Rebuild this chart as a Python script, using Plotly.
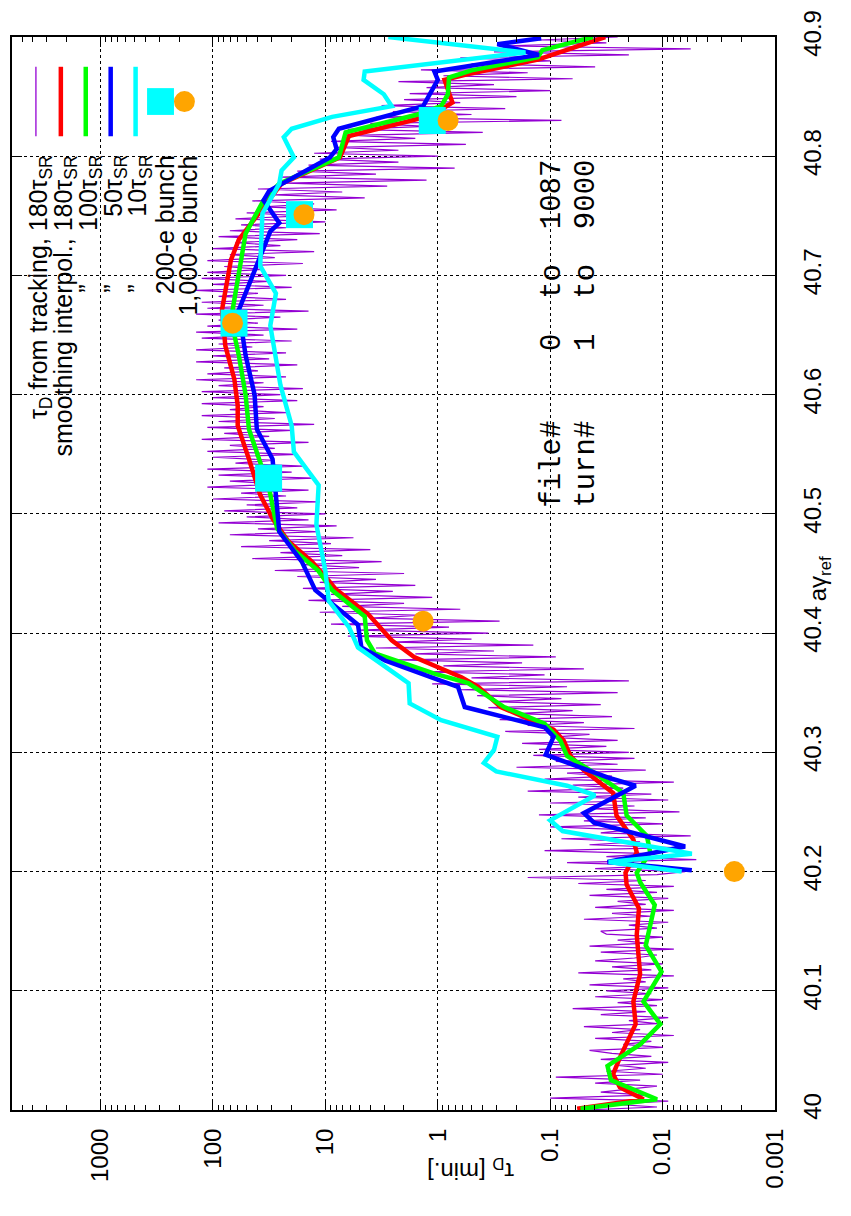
import numpy as np
import plotly.graph_objects as go

# ---------------- data ----------------
# horizontal quantity in the rotated picture: tau_D [min.] (log), stored as log10 values
# vertical quantity: a*gamma_ref

# tau_D from tracking (thin purple), sampled every 0.0025 in a*gamma_ref
purple_a = np.round(np.arange(40.0, 40.9001, 0.0025), 4)
purple_log10_tau = [
    # 40.00 - 40.05
    -1.30, -1.95, -1.55, -2.05, -1.00, -1.85, -1.45, -1.70, -1.95, -1.40,
    -1.80, -1.05, -2.00, -1.50, -1.85, -1.60, -2.05, -1.45, -1.90, -1.55,
    # 40.05 - 40.10
    -1.35, -2.00, -1.65, -1.90, -1.40, -2.10, -1.55, -1.80, -1.30, -1.95,
    -1.70, -2.05, -1.45, -1.85, -1.20, -1.95, -1.60, -2.00, -1.40, -1.90,
    # 40.10 - 40.15
    -1.50, -2.05, -1.35, -1.85, -1.65, -2.10, -1.25, -1.90, -1.55, -2.00,
    -1.40, -1.75, -1.95, -1.45, -2.10, -1.35, -1.85, -1.60, -2.00, -1.50,
    # 40.15 - 40.20
    -1.45, -1.95, -1.70, -2.05, -1.30, -1.90, -1.55, -2.10, -1.40, -1.85,
    -1.60, -2.05, -1.35, -1.95, -1.50, -2.10, -1.25, -1.85, -0.80, -1.95,
    # 40.20 - 40.25
    -2.20, -1.40, -2.00, -1.15, -2.30, -1.50, -1.90, -0.95, -2.10, -1.35,
    -1.80, -1.10, -2.25, -1.45, -1.70, -1.00, -2.00, -1.30, -1.85, -0.90,
    # 40.25 - 40.30
    -2.15, -1.40, -1.75, -1.00, -2.05, -1.25, -1.90, -0.80, -1.65, -1.20,
    -2.10, -0.95, -1.55, -1.15, -1.85, -0.70, -1.60, -1.05, -1.75, -0.85,
    # 40.30 - 40.35
    -1.70, -0.90, -1.50, -0.75, -1.60, -1.00, -1.35, -0.60, -1.75, -0.80,
    -1.30, -0.55, -1.55, -0.70, -1.20, -0.45, -1.45, -0.50, -1.10, -0.35,
    # 40.35 - 40.40
    -1.60, -0.20, -1.15, 0.05, -1.70, -0.30, -0.95, 0.15, -1.30, -0.05,
    -0.75, 0.35, -1.05, 0.20, -0.50, 0.55, -0.85, 0.40, -0.30, 0.80,
    # 40.40 - 40.45
    -0.45, 0.70, -0.10, 0.95, -0.55, 0.60, 0.15, 1.05, -0.20, 0.85,
    0.30, 1.15, 0.05, 0.95, 0.40, 1.20, 0.20, 1.05, 0.55, 1.25,
    # 40.45 - 40.50
    0.30, 1.45, 0.70, 1.20, 0.50, 1.65, 0.85, 1.40, 0.60, 1.75,
    0.95, 1.50, 0.75, 1.85, 1.05, 1.60, 0.90, 1.95, 1.15, 1.70,
    # 40.50 - 40.55
    1.00, 1.90, 1.25, 1.70, 1.05, 2.00, 1.35, 1.75, 1.15, 2.05,
    1.40, 1.85, 1.10, 1.95, 1.30, 2.05, 1.20, 1.80, 1.45, 2.00,
    # 40.55 - 40.60
    1.25, 2.05, 1.45, 1.85, 1.15, 2.10, 1.50, 1.90, 1.30, 2.05,
    1.10, 1.95, 1.45, 2.10, 1.35, 1.85, 1.55, 2.10, 1.25, 2.00,
    # 40.60 - 40.65
    1.40, 2.10, 1.20, 1.95, 1.55, 2.15, 1.35, 2.05, 1.60, 1.90,
    1.25, 2.15, 1.50, 2.00, 1.35, 2.15, 1.65, 1.95, 1.30, 2.10,
    # 40.65 - 40.70
    1.55, 2.15, 1.25, 2.05, 1.60, 1.95, 1.40, 2.15, 1.15, 2.05,
    1.55, 2.10, 1.35, 1.95, 1.60, 2.15, 1.30, 2.00, 1.50, 2.10,
    # 40.70 - 40.75
    1.35, 2.05, 1.55, 1.90, 1.20, 2.05, 1.45, 1.85, 1.10, 2.00,
    1.40, 1.80, 1.25, 1.95, 1.05, 1.85, 1.35, 1.75, 1.00, 1.80,
    # 40.75 - 40.80
    1.20, 1.70, 0.90, 1.55, 1.10, 1.65, 0.65, 1.45, 0.85, 1.60,
    0.45, 1.35, 0.10, 1.40, 0.55, 1.25, -0.15, 1.15, 0.35, 1.05,
    # 40.80 - 40.85
    0.00, 1.10, 0.35, 0.90, -0.25, 0.95, 0.20, 0.75, -0.40, 0.80,
    0.10, 0.60, -1.10, 0.55, -0.30, 0.40, -0.60, 0.50, -0.20, 0.30,
    # 40.85 - 40.90
    -0.70, 0.25, -1.00, 0.10, -0.50, 0.35, -1.20, -0.05, -0.80, 0.15,
    -1.40, -0.30, -1.00, -0.20, -1.70, -0.50, -2.25, -0.60, -1.50, -0.90,
    # 40.90
    -1.60,
]
assert len(purple_log10_tau) == len(purple_a)

# smoothing interpolation, 180 tau_SR (red)
red_a = [40.001, 40.009, 40.019, 40.030, 40.044, 40.072, 40.091, 40.114, 40.147, 40.169,
         40.189, 40.199, 40.216, 40.227, 40.247, 40.266, 40.285, 40.297, 40.310, 40.319,
         40.338, 40.355, 40.363, 40.380, 40.394, 40.416, 40.437, 40.444, 40.460, 40.477,
         40.496, 40.516, 40.546, 40.574, 40.591, 40.613, 40.641, 40.671, 40.713, 40.730,
         40.756, 40.777, 40.799, 40.817, 40.834, 40.845, 40.864, 40.869, 40.881, 40.900]
red_log10_tau = [-1.24, -1.83, -1.62, -1.56, -1.62, -1.76, -1.74, -1.80, -1.77, -1.79,
                 -1.68, -1.67, -1.77, -1.74, -1.59, -1.56, -1.30, -1.18, -1.12, -1.03,
                 -0.56, -0.36, -0.21, 0.21, 0.41, 0.62, 0.91, 0.97, 1.12, 1.33,
                 1.47, 1.58, 1.68, 1.78, 1.78, 1.81, 1.89, 1.92, 1.84, 1.77,
                 1.56, 1.39, 0.87, 0.79, 0.06, -0.13, -0.06, -0.27, -0.89, -1.49]

# 100 tau_SR (green)
green_a = [40.001, 40.009, 40.025, 40.037, 40.055, 40.072, 40.091, 40.116, 40.138, 40.172,
           40.191, 40.199, 40.216, 40.230, 40.247, 40.266, 40.283, 40.297, 40.310, 40.324,
           40.338, 40.358, 40.366, 40.383, 40.394, 40.414, 40.436, 40.452, 40.469, 40.488,
           40.521, 40.546, 40.571, 40.600, 40.633, 40.663, 40.685, 40.735, 40.763, 40.777,
           40.799, 40.820, 40.835, 40.842, 40.852, 40.866, 40.872, 40.883, 40.889, 40.900]
green_log10_tau = [-1.27, -1.95, -1.54, -1.51, -1.80, -1.98, -1.83, -1.99, -1.85, -1.93,
                   -1.80, -1.77, -1.89, -1.86, -1.68, -1.65, -1.39, -1.15, -1.09, -0.95,
                   -0.59, -0.27, 0.03, 0.56, 0.63, 0.65, 0.94, 1.06, 1.27, 1.43,
                   1.50, 1.59, 1.68, 1.71, 1.77, 1.84, 1.80, 1.71, 1.55, 1.41,
                   0.88, 0.82, 0.18, -0.03, -0.09, -0.10, -0.30, -0.89, -0.93, -1.38]

# 50 tau_SR (blue)
blue_a = [40.201, 40.208, 40.221, 40.241, 40.249, 40.272, 40.279, 40.298, 40.313, 40.321,
          40.338, 40.355, 40.360, 40.377, 40.388, 40.407, 40.420, 40.436, 40.460, 40.485,
          40.546, 40.571, 40.600, 40.633, 40.671, 40.685, 40.737, 40.744, 40.763, 40.771,
          40.799, 40.806, 40.816, 40.823, 40.842, 40.864, 40.871, 40.885, 40.894, 40.899]
blue_log10_tau = [-2.26, -1.51, -2.20, -1.39, -1.30, -1.76, -1.51, -0.96, -1.03, -0.95,
                  -0.24, -0.18, -0.03, 0.47, 0.68, 0.71, 0.88, 1.09, 1.21, 1.41,
                  1.47, 1.61, 1.63, 1.71, 1.77, 1.71, 1.49, 1.41, 1.55, 1.50,
                  0.96, 0.90, 0.93, 0.88, 0.13, 0.00, 0.03, -0.90, -0.53, -0.92]

# 10 tau_SR (cyan)
cyan_a = [40.200, 40.208, 40.215, 40.234, 40.243, 40.264, 40.272, 40.284, 40.291, 40.302,
          40.313, 40.327, 40.341, 40.358, 40.366, 40.388, 40.405, 40.427, 40.452, 40.491,
          40.524, 40.552, 40.574, 40.608, 40.658, 40.685, 40.708, 40.752, 40.777, 40.788,
          40.799, 40.816, 40.823, 40.833, 40.842, 40.852, 40.864, 40.871, 40.887, 40.900]
cyan_log10_tau = [-2.17, -1.52, -2.26, -1.11, -1.00, -1.40, -1.15, -0.52, -0.41, -0.50,
                  -0.53, -0.03, 0.25, 0.26, 0.38, 0.71, 0.79, 0.97, 1.00, 1.08,
                  1.06, 1.28, 1.30, 1.40, 1.49, 1.44, 1.58, 1.56, 1.41, 1.39,
                  1.28, 1.37, 1.30, 0.94, 0.41, 0.48, 0.66, 0.65, -0.78, 0.44]

# bunch simulations
bunch200_a = [40.530, 40.660, 40.751, 40.830]
bunch200_tau = [32.0, 65.0, 17.0, 1.12]
bunch1000_a = [40.200, 40.410, 40.660, 40.751, 40.830]
bunch1000_tau = [0.0023, 1.35, 67.0, 15.5, 0.81]

tau_ticks = [0.001, 0.01, 0.1, 1, 10, 100, 1000]
tau_ticktext = ["0.001", "0.01", "0.1", "1", "10", "100", "1000"]
a_ticks = [40.0, 40.1, 40.2, 40.3, 40.4, 40.5, 40.6, 40.7, 40.8, 40.9]
a_ticktext = ["40", "40.1", "40.2", "40.3", "40.4", "40.5", "40.6", "40.7", "40.8", "40.9"]

legend_labels = ["τ<sub>D</sub> from tracking, 180τ<sub>SR</sub>",
                 "smoothing interpol., 180τ<sub>SR</sub>",
                 "100τ<sub>SR</sub>", "50τ<sub>SR</sub>", "10τ<sub>SR</sub>",
                 "200-e bunch", "1,000-e bunch"]

PURPLE, RED, GREEN, BLUE, CYAN, ORANGE = "#9400D3", "#FF0000", "#00FF00", "#0000FF", "#00FFFF", "#FFA500"

# ---------------- figure ----------------
W, H = 851, 1216
L_PX, R_PX, T_PX, B_PX = 10, 775.5, 29, 1110


def px(x):
    return (x - L_PX) / (R_PX - L_PX)


def py(y):
    return (B_PX - y) / (B_PX - T_PX)


def tau(v):
    return np.power(10.0, np.asarray(v, dtype=float))


THICK = 4.5
fig = go.Figure()
fig.add_trace(go.Scatter(x=tau(purple_log10_tau), y=purple_a, mode="lines",
                         line=dict(color=PURPLE, width=1.2)))
fig.add_trace(go.Scatter(x=tau(red_log10_tau), y=red_a, mode="lines",
                         line=dict(color=RED, width=THICK)))
fig.add_trace(go.Scatter(x=tau(green_log10_tau), y=green_a, mode="lines",
                         line=dict(color=GREEN, width=THICK)))
fig.add_trace(go.Scatter(x=tau(blue_log10_tau), y=blue_a, mode="lines",
                         line=dict(color=BLUE, width=THICK)))
fig.add_trace(go.Scatter(x=tau(cyan_log10_tau), y=cyan_a, mode="lines",
                         line=dict(color=CYAN, width=THICK)))
fig.add_trace(go.Scatter(x=bunch200_tau, y=bunch200_a, mode="markers",
                         marker=dict(symbol="square", size=27, color=CYAN, line=dict(width=0))))
fig.add_trace(go.Scatter(x=bunch1000_tau, y=bunch1000_a, mode="markers",
                         marker=dict(symbol="circle", size=21, color=ORANGE, line=dict(width=0))))

font_sans = "Liberation Sans, Arial, sans-serif"
tickfont = dict(family=font_sans, size=24, color="black")

minor_tau = [m * 10.0 ** e for e in range(-3, 4) for m in range(2, 10) if m * 10.0 ** e < 6000]

fig.update_layout(
    width=W, height=H, showlegend=False,
    margin=dict(l=L_PX, r=W - R_PX, t=T_PX, b=H - B_PX, pad=0),
    paper_bgcolor="white", plot_bgcolor="white",
    xaxis=dict(type="log", range=[3.788, -3.0], tickmode="array", tickvals=tau_ticks,
               ticktext=tau_ticktext, tickangle=-90, tickfont=tickfont, ticklabelstandoff=7,
               ticks="inside", ticklen=10, tickwidth=1, tickcolor="black",
               showline=True, linewidth=2, linecolor="black", mirror="allticks",
               showgrid=True, gridcolor="black", griddash="dot", gridwidth=1,
               zeroline=False,
               minor=dict(tickmode="array", tickvals=minor_tau, ticks="inside",
                          ticklen=5, tickcolor="black", tickwidth=1, showgrid=False)),
    yaxis=dict(range=[40.0, 40.9], side="right", tickmode="array", tickvals=a_ticks,
               ticktext=a_ticktext, tickangle=-90, tickfont=tickfont, ticklabelstandoff=15,
               ticks="inside", ticklen=10, tickwidth=1, tickcolor="black",
               showline=True, linewidth=2, linecolor="black", mirror="allticks",
               showgrid=True, gridcolor="black", griddash="dot", gridwidth=1,
               zeroline=False),
)

ann = []
# axis titles
ann.append(dict(text="aγ<sub>ref</sub>", x=px(821), y=py(575), xref="paper", yref="paper",
                showarrow=False, textangle=-90, font=dict(family=font_sans, size=24, color="black"),
                xanchor="center", yanchor="middle"))
ann.append(dict(text="τ<sub>D</sub> [min.]", x=px(470), y=py(1170), xref="paper", yref="paper",
                showarrow=False, textangle=180, font=dict(family=font_sans, size=24, color="black"),
                xanchor="center", yanchor="middle"))

# legend (rotated)
sample_x = [34, 59, 84, 109, 134, 159, 183]
text_cx = [x + 4 for x in sample_x]
for i, lab in enumerate(legend_labels):
    ann.append(dict(text=lab, x=px(text_cx[i]), y=py(146), xref="paper", yref="paper",
                    showarrow=False, textangle=-90,
                    font=dict(family=font_sans, size=25, color="black"),
                    xanchor="center", yanchor="top"))
for i in (2, 3, 4):
    ann.append(dict(text="”", x=px(text_cx[i] - 2), y=py(283), xref="paper", yref="paper",
                    showarrow=False, textangle=-90,
                    font=dict(family=font_sans, size=25, color="black"),
                    xanchor="center", yanchor="middle"))

# file / turn label
mono = "Liberation Mono, Courier New, monospace"
nb = "\u00a0"
line1 = "file#" + nb * 4 + "0" + nb * 2 + "to" + nb * 2 + "1087"
line2 = "turn#" + nb * 4 + "1" + nb * 2 + "to" + nb * 2 + "9000"
for txt, cx in ((line1, 552), (line2, 586)):
    ann.append(dict(text=txt, x=px(cx), y=py(505), xref="paper", yref="paper",
                    showarrow=False, textangle=-90,
                    font=dict(family=mono, size=29, color="black"),
                    xanchor="center", yanchor="bottom"))
fig.update_layout(annotations=ann)

# legend samples
shapes = []
line_styles = [(PURPLE, 1.3), (RED, THICK), (GREEN, THICK), (BLUE, THICK), (CYAN, THICK)]
for i, (c, w) in enumerate(line_styles):
    shapes.append(dict(type="line", xref="paper", yref="paper",
                       x0=px(sample_x[i]), x1=px(sample_x[i]), y0=py(59), y1=py(129),
                       line=dict(color=c, width=w)))
shapes.append(dict(type="rect", xref="paper", yref="paper",
                   x0=px(sample_x[5] - 13.5), x1=px(sample_x[5] + 13.5),
                   y0=py(94 + 13.5), y1=py(94 - 13.5), fillcolor=CYAN, line=dict(width=0)))
shapes.append(dict(type="circle", xref="paper", yref="paper",
                   x0=px(sample_x[6] - 10.5), x1=px(sample_x[6] + 10.5),
                   y0=py(94 + 10.5), y1=py(94 - 10.5), fillcolor=ORANGE, line=dict(width=0)))
fig.update_layout(shapes=shapes)

fig.write_html("out.html")
